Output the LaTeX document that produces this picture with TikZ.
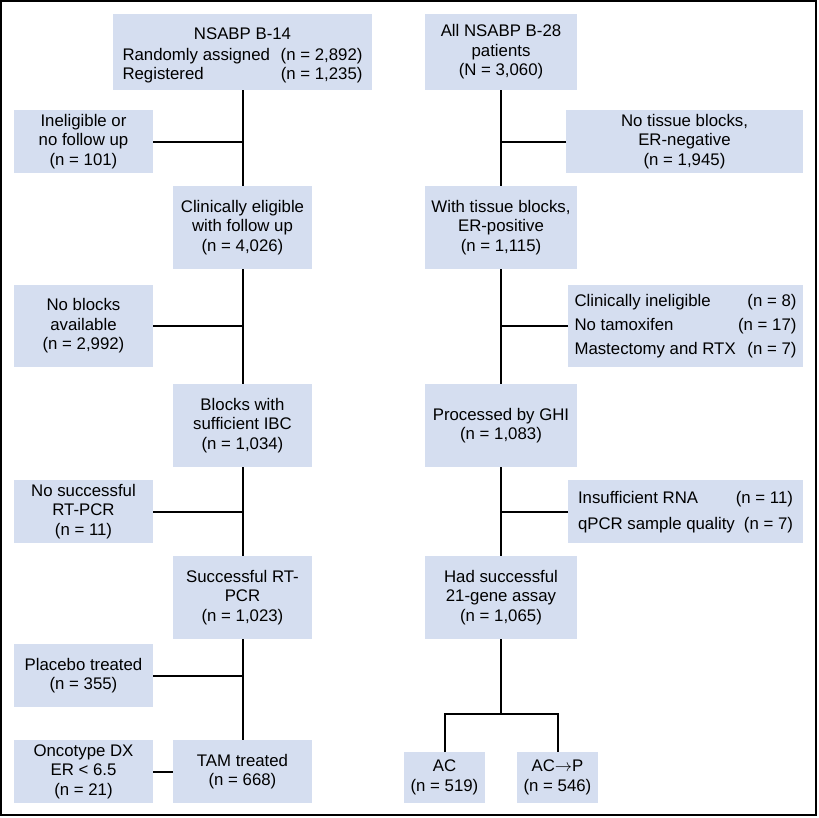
\documentclass[tikz,border=0pt]{standalone}
\usepackage{fontspec}
\setmainfont{Liberation Sans}
\definecolor{boxblue}{RGB}{213,222,240}
\tikzset{
  box/.style={fill=boxblue, inner sep=0pt, outer sep=0pt, align=center,
    font=\fontsize{16.8}{19.5}\selectfont},
  conn/.style={line width=2pt, draw=black, line join=miter},
}
\begin{document}
\begin{tikzpicture}[x=1pt,y=-1pt]
\useasboundingbox (0,0) rectangle (819,817);
\draw[line width=2pt] (1,1) rectangle (816,815);

% left column
\node[box, minimum width=259, minimum height=76] (b14) at (242.5,52)
  {\rule{0pt}{21.2pt}NSABP B-14\\[1pt]\renewcommand{\arraystretch}{0.98}\begin{tabular*}{240pt}[t]{@{}l@{\extracolsep{\fill}}r@{}}Randomly assigned & (n = 2,892)\\ Registered & (n = 1,235)\end{tabular*}};
\node[box, minimum width=139, minimum height=63] (inel) at (83.5,141.5) {Ineligible or\\no follow up\\(n = 101)};
\node[box, minimum width=139, minimum height=83] (elig) at (242.5,227.5) {Clinically eligible\\with follow up\\(n = 4,026)};
\node[box, minimum width=139, minimum height=82] (noblk) at (83.5,326) {No blocks\\available\\(n = 2,992)};
\node[box, minimum width=139, minimum height=83] (ibc) at (242.5,425.5) {Blocks with\\sufficient IBC\\(n = 1,034)};
\node[box, minimum width=139, minimum height=63] (nosucc) at (83.5,511.5) {No successful\\RT-PCR\\(n = 11)};
\node[box, minimum width=139, minimum height=83] (succ) at (242.5,597.5) {Successful RT-\\PCR\\(n = 1,023)};
\node[box, minimum width=139, minimum height=63] (plac) at (83.5,675.5) {Placebo treated\\(n = 355)};
\node[box, minimum width=139, minimum height=63] (onco) at (83.5,771.5) {Oncotype DX\\ER < 6.5\\(n = 21)};
\node[box, minimum width=139, minimum height=63] (tam) at (242.5,771.5) {TAM treated\\(n = 668)};

% right column
\node[box, minimum width=152, minimum height=76] (b28) at (501,52) {All NSABP B-28\\patients\\(N = 3,060)};
\node[box, minimum width=237, minimum height=63] (notis) at (684.5,141.5) {No tissue blocks,\\ER-negative\\(n = 1,945)};
\node[box, minimum width=152, minimum height=83] (withtis) at (501,227.5) {With tissue blocks,\\ER-positive\\(n = 1,115)};
\node[box, minimum width=235, minimum height=82] (excl) at (685.5,326)
  {\renewcommand{\arraystretch}{1.23}\begin{tabular*}{222pt}{@{}l@{\extracolsep{\fill}}r@{}}Clinically ineligible & (n = 8)\\ No tamoxifen & (n = 17)\\ Mastectomy and RTX & (n = 7)\end{tabular*}};
\node[box, minimum width=152, minimum height=83] (ghi) at (501,425.5) {Processed by GHI\\(n = 1,083)};
\node[box, minimum width=235, minimum height=63] (rna) at (685.5,511.5)
  {\renewcommand{\arraystretch}{1.3}\begin{tabular*}{215pt}{@{}l@{\extracolsep{\fill}}r@{}}Insufficient RNA & (n = 11)\\ qPCR sample quality & (n = 7)\end{tabular*}};
\node[box, minimum width=152, minimum height=83] (had) at (501,597.5) {Had successful\\21-gene assay\\(n = 1,065)};
\node[box, minimum width=81, minimum height=51] (ac) at (444.5,777.5) {AC\\(n = 519)};
\node[box, minimum width=81, minimum height=51] (acp) at (557.5,777.5) {AC$\rightarrow$P\\(n = 546)};
\coordinate (split) at (501,714);

% connectors left
\draw[conn] (b14) -- (elig);
\draw[conn] (elig) -- (ibc);
\draw[conn] (ibc) -- (succ);
\draw[conn] (succ) -- (tam);
\draw[conn] (inel) -- (inel -| b14);
\draw[conn] (noblk) -- (noblk -| b14);
\draw[conn] (nosucc) -- (nosucc -| b14);
\draw[conn] (plac) -- (plac -| b14);
\draw[conn] (onco) -- (tam);

% connectors right
\draw[conn] (b28) -- (withtis);
\draw[conn] (withtis) -- (ghi);
\draw[conn] (ghi) -- (had);
\draw[conn] (had) -- (split);
\draw[conn] (notis) -- (notis -| b28);
\draw[conn] (excl) -- (excl -| b28);
\draw[conn] (rna) -- (rna -| b28);
\draw[conn] (ac) |- (split) -| (acp);
\end{tikzpicture}
\end{document}
